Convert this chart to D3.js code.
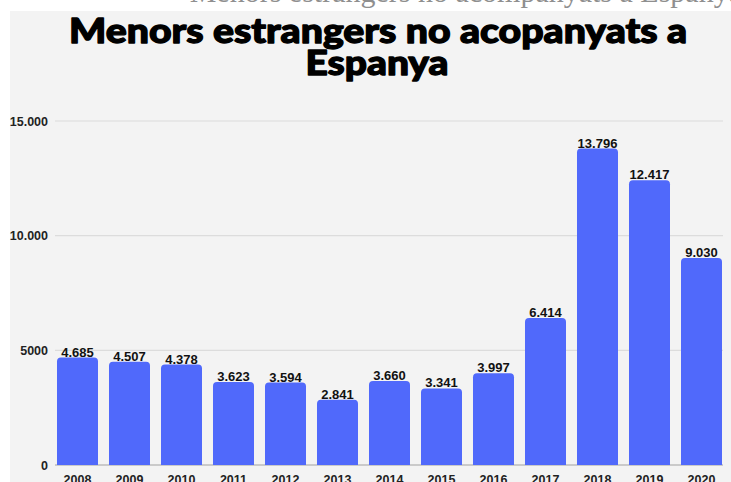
<!DOCTYPE html>
<html><head><meta charset="utf-8">
<script src="https://cdn.jsdelivr.net/npm/d3@7"></script>
<style>
html,body{margin:0;padding:0;background:#fff;}
svg{display:block;}
</style></head>
<body>
<svg id="c" width="731" height="482"></svg>
<script>
const years = ["2008","2009","2010","2011","2012","2013","2014","2015","2016","2017","2018","2019","2020"];
const values = [4685,4507,4378,3623,3594,2841,3660,3341,3997,6414,13796,12417,9030];
const valueLabels = ["4.685","4.507","4.378","3.623","3.594","2.841","3.660","3.341","3.997","6.414","13.796","12.417","9.030"];
const tickValues = [0,5000,10000,15000];
const tickLabels = ["0","5000","10.000","15.000"];
const titleLines = ["Menors estrangers no acopanyats a","Espanya"];
const headerText = "Menors estrangers no acompanyats a Espanya";

const svg = d3.select("#c");
const W = 731, H = 482;

// panel
svg.append("rect").attr("x",10).attr("y",11).attr("width",W-10).attr("height",H-11).attr("fill","#f3f3f3");

// cropped header text (only its lower part shows above the panel)
svg.append("text").attr("x",742).attr("y",2).attr("text-anchor","end")
  .attr("font-family","Liberation Serif, DejaVu Serif, serif").attr("font-size",30)
  .attr("fill","#8f8f8f").text(headerText);
svg.append("rect").attr("x",0).attr("y",11).attr("width",10).attr("height",H).attr("fill","#fff");

const x = d3.scaleBand().domain(years).range([46,733]).padding(0.2115);
const y = d3.scaleLinear().domain([0,15000]).range([465,121]);

// gridlines
const g = svg.append("g");
g.selectAll("line.grid").data(tickValues).join("line")
  .attr("x1",55).attr("x2",723)
  .attr("y1",d=>y(d)).attr("y2",d=>y(d))
  .attr("stroke",d=>d===0?"#bdbdbd":"#dcdcdc").attr("stroke-width",d=>d===0?1.5:1.2);

// y labels
g.selectAll("text.yl").data(tickValues).join("text")
  .attr("x",48).attr("y",d=>y(d)+4.5).attr("text-anchor","end")
  .attr("font-family","Liberation Sans, Arial, sans-serif").attr("font-weight","bold")
  .attr("font-size",12.5).attr("fill","#222")
  .text((d,i)=>tickLabels[i]);

// bars with rounded top
const r = 4;
g.selectAll("path.bar").data(values).join("path")
  .attr("fill","#5069fb")
  .attr("d",(d,i)=>{
    const x0 = x(years[i]), w = x.bandwidth(), y0 = y(d), y1 = y(0);
    return `M${x0},${y1}V${y0+r}Q${x0},${y0} ${x0+r},${y0}H${x0+w-r}Q${x0+w},${y0} ${x0+w},${y0+r}V${y1}Z`;
  });

// value labels
g.selectAll("text.vl").data(values).join("text")
  .attr("x",(d,i)=>x(years[i])+x.bandwidth()/2).attr("y",d=>y(d)-1)
  .attr("text-anchor","middle")
  .attr("font-family","Liberation Sans, Arial, sans-serif").attr("font-weight","bold")
  .attr("font-size",13).attr("fill","#111")
  .text((d,i)=>valueLabels[i]);

// x labels
g.selectAll("text.xl").data(years).join("text")
  .attr("x",d=>x(d)+x.bandwidth()/2).attr("y",484)
  .attr("text-anchor","middle")
  .attr("font-family","Liberation Sans, Arial, sans-serif").attr("font-weight","bold")
  .attr("font-size",12.5).attr("fill","#222")
  .text(d=>d);

// title
const tf = "Lato, 'Open Sans', sans-serif";
svg.append("text").attr("x",378).attr("y",43).attr("text-anchor","middle")
  .attr("font-family",tf).attr("font-weight",900).attr("font-size",35).attr("fill","#000")
  .attr("stroke","#000").attr("stroke-width",1.3).attr("stroke-linejoin","round")
  .attr("textLength",618).attr("lengthAdjust","spacingAndGlyphs")
  .text(titleLines[0]);
svg.append("text").attr("x",377).attr("y",75).attr("text-anchor","middle")
  .attr("font-family",tf).attr("font-weight",900).attr("font-size",35).attr("fill","#000")
  .attr("stroke","#000").attr("stroke-width",1.3).attr("stroke-linejoin","round")
  .attr("textLength",143).attr("lengthAdjust","spacingAndGlyphs")
  .text(titleLines[1]);
</script>
</body></html>
